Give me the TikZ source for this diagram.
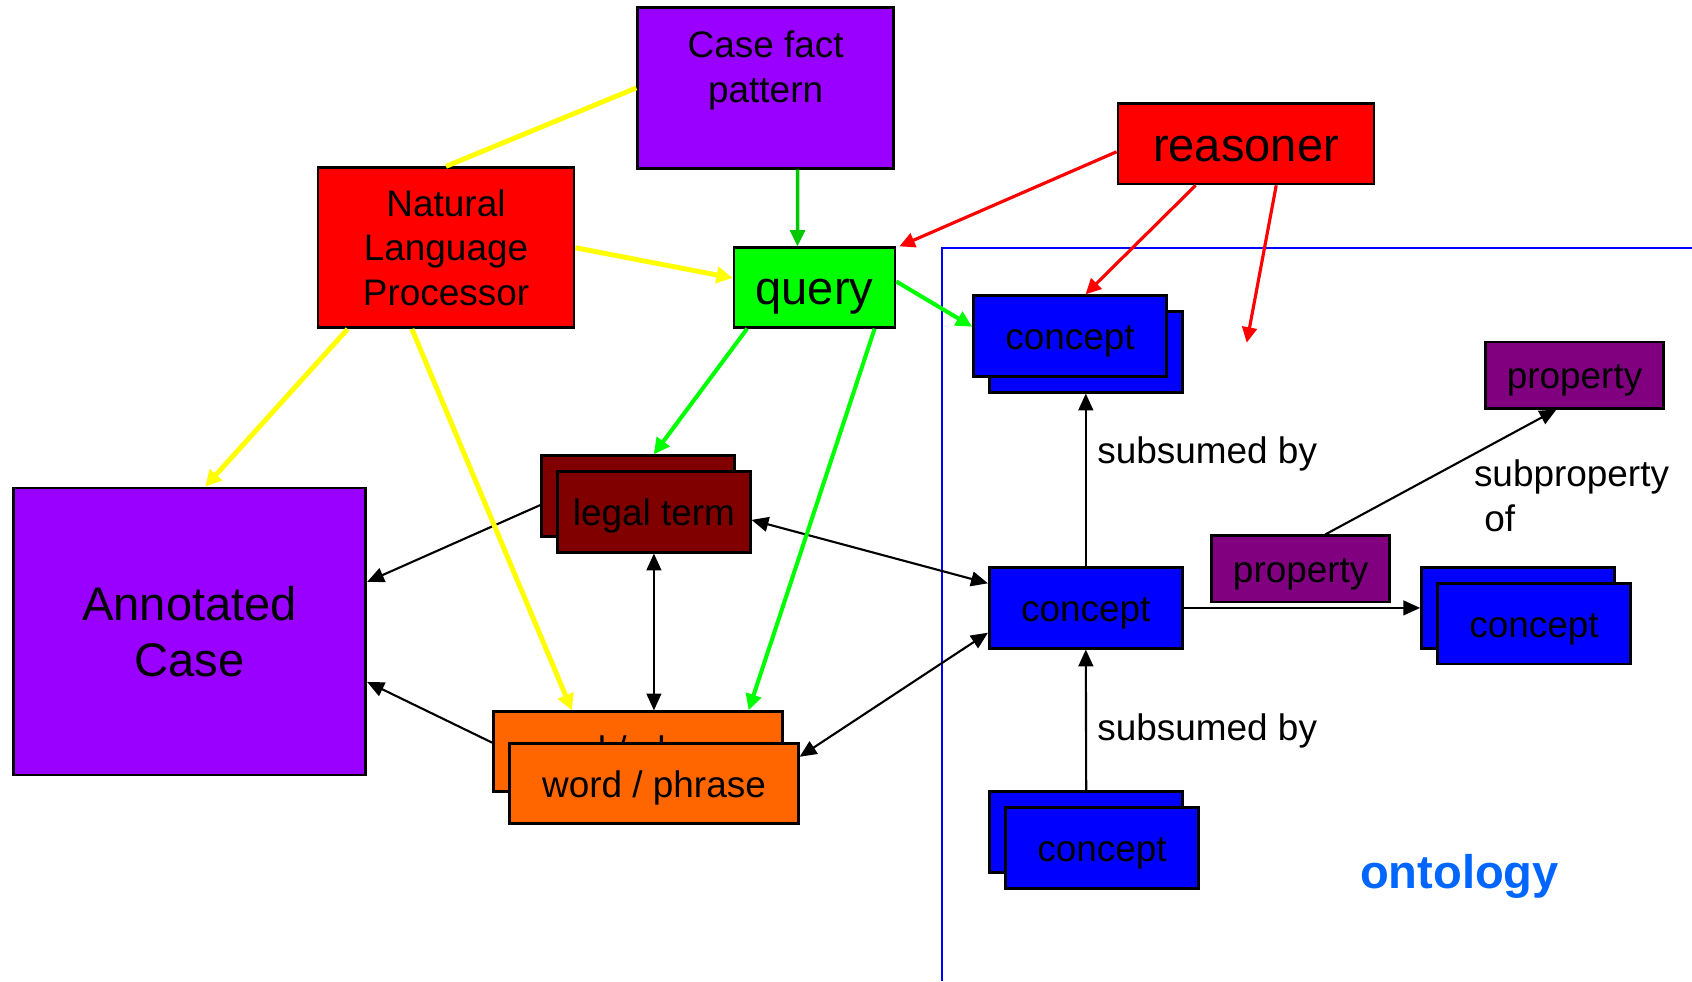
\documentclass[tikz,border=0pt]{standalone}
\usepackage{fontspec}
\setmainfont{Liberation Sans}
\usetikzlibrary{arrows.meta,calc}

\definecolor{violetbox}{HTML}{9900FF}
\definecolor{redbox}{HTML}{FF0000}
\definecolor{greenbox}{HTML}{00FF00}
\definecolor{conceptblue}{HTML}{0000FF}
\definecolor{termmaroon}{HTML}{800000}
\definecolor{wordorange}{HTML}{FF6600}
\definecolor{propviolet}{HTML}{800080}
\definecolor{ontoblue}{HTML}{0066FF}
\definecolor{nlpyellow}{HTML}{FFFF00}
\definecolor{darkgreenline}{HTML}{00C800}

\tikzset{
  box/.style={draw=black, line width=0.75pt, inner sep=0pt, text=black, rectangle},
  smalltext/.style={font=\fontsize{10.5}{12.6}\selectfont},
  bigtext/.style={font=\fontsize{13.4}{15.9}\selectfont},
  oneline/.style={text height=9.9pt, text depth=2.1pt},
  onelinebig/.style={text height=12.6pt, text depth=2.7pt},
  conceptbox/.style={box, fill=conceptblue, minimum width=1.93cm, minimum height=0.805cm},
  propbox/.style={box, fill=propviolet, smalltext, oneline, minimum width=1.78cm, minimum height=0.663cm},
  yel/.style={draw=nlpyellow, line width=1.4pt, >={Triangle[length=4.6pt,width=4.6pt]}},
  grn/.style={draw=greenbox, line width=1.15pt, >={Triangle[length=4.6pt,width=4.4pt]}},
  dgrn/.style={draw=darkgreenline, line width=1pt, >={Triangle[length=4.6pt,width=4.2pt]}},
  rd/.style={draw=redbox, line width=0.9pt, >={Triangle[length=4.4pt,width=4.2pt]}},
  blk/.style={draw=black, line width=0.6pt, >={Triangle[length=4.8pt,width=4.2pt]}},
  frame/.style={draw=conceptblue, line width=0.6pt},
  lbl/.style={smalltext, inner sep=0pt, anchor=base west, align=left}
}

\begin{document}
\begin{tikzpicture}[x=0.01cm, y=-0.01cm]
\useasboundingbox (0,0) rectangle (1692,981);

% ontology frame (open to the right and bottom)
\draw[frame] (1692,248) -| (941.7,981);

% input side
\node[box, fill=violetbox, minimum width=2.558cm, minimum height=1.608cm] (cfp) at (765.6,87.9) {};
\node[smalltext, align=center, anchor=north, inner sep=0pt] (cfptext) at (765.6,30.3) {Case fact\\pattern};
\node[box, fill=redbox, bigtext, onelinebig, minimum width=2.56cm, minimum height=0.805cm] (reas) at (1246,143.75) {reasoner};
\node[box, fill=redbox, smalltext, align=center, minimum width=2.56cm, minimum height=1.6cm] (nlp) at (446,247.7) {Natural\\Language\\Processor};
\node[box, fill=greenbox, bigtext, onelinebig, minimum width=1.61cm, minimum height=0.796cm] (query) at (814.5,287.5) {query};
\node[box, fill=violetbox, bigtext, align=center, minimum width=3.52cm, minimum height=2.868cm] (anno) at (189.7,631.4) {Annotated\\Case};

% legal term stack
\node[box, fill=termmaroon, minimum width=1.925cm, minimum height=0.805cm] (ltback) at (638,496) {};
\node[box, fill=termmaroon, smalltext, oneline, minimum width=1.925cm, minimum height=0.805cm] (lt) at (653.9,511.9) {legal term};

% word / phrase stack
\node[box, fill=wordorange, smalltext, oneline, minimum width=2.885cm, minimum height=0.8cm] (wpback) at (637.9,751.7) {\raisebox{0.8pt}{word / phrase}};
\node[box, fill=wordorange, smalltext, oneline, minimum width=2.885cm, minimum height=0.8cm] (wp) at (654,783.5) {word / phrase};

% concepts
\node[conceptbox] (c1back) at (1086.2,351.9) {};
\node[conceptbox, smalltext, oneline] (c1) at (1070,335.9) {concept};
\node[conceptbox, smalltext, oneline] (cm) at (1085.8,607.9) {concept};
\node[conceptbox] (c2back) at (1518,607.9) {};
\node[conceptbox, smalltext, oneline] (c2) at (1534,623.7) {concept};
\node[conceptbox] (c3back) at (1086.2,832) {};
\node[conceptbox, smalltext, oneline] (c3) at (1102,848) {concept};

% properties
\node[propbox] (pm) at (1300.7,568.9) {property};
\node[propbox] (pt) at (1574.5,375) {property};

% labels
\node[lbl] (sub1) at (1096.7,463.3) {subsumed by};
\node[lbl] (sub2) at (1096.7,740) {subsumed by};
\node[lbl] (subp) at (1473.3,531) {subproperty\\\hspace*{0.278em}of};
\node[inner sep=0pt, anchor=base west, text=ontoblue, font=\fontsize{13.4}{16}\selectfont\bfseries] (onto) at (1359.3,888.3) {ontology};

% black relations
\draw[blk, ->] ($(ltback.west)+(0,9)$) -- ($(anno.north east)+(0,95.3)$);
\draw[blk, ->] ($(wpback.north west)+(0,32.3)$) -- ($(anno.north east)+(0,195.3)$);
\draw[blk, <->] (lt.south) -- (lt.south |- wpback.north);
\draw[blk, <->] ($(lt.east)+(0,8)$) -- ($(cm.west)+(0,-24.6)$);
\draw[blk, <->] ($(wp.north east)+(0,14.6)$) -- ($(cm.west)+(0,24.8)$);
\draw[blk, ->] (cm.north) -- (cm.north |- c1back.south);
\draw[blk, ->] (c3back.north) -- (cm.south);
\draw[blk, ->] (cm.east) -- (cm.east -| c2back.west);
\draw[blk, ->] ($(pm.north west)+(115,0)$) -- ($(pt.south west)+(72.3,0)$);

% language processing (yellow)
\draw[yel] (cfp.west) -- (nlp.north);
\draw[yel, ->] (nlp.east) -- ($(query.west)+(0,-9.5)$);
\draw[yel, ->] ($(nlp.south west)+(31,0)$) -- ($(anno.north west)+(193,0)$);
\draw[yel, ->] ($(nlp.south west)+(95.3,0)$) -- ($(wpback.north west)+(79.6,0)$);

% query (green)
\draw[dgrn, ->] ($(cfp.south)+(32,0)$) -- ($(query.north)+(-17,0)$);
\draw[grn, ->] ($(query.east)+(0,-6)$) -- ($(c1.west)+(0,-9.2)$);
\draw[grn, ->] ($(query.south west)+(14.5,0)$) -- ($(ltback.north west)+(113.3,0)$);
\draw[grn, ->] ($(query.south west)+(142,0)$) -- ($(wpback.north west)+(256.3,0)$);

% reasoner (red)
\coordinate (rfree) at (1246.7,342.7);
\draw[rd, ->] ($(reas.west)+(0,8)$) -- ($(query.north east)+(3,0)$);
\draw[rd, ->] ($(reas.south west)+(79,0)$) -- ($(c1.north west)+(113.4,0)$);
\draw[rd, ->] ($(reas.south west)+(159.6,0)$) -- (rfree);
\end{tikzpicture}
\end{document}
